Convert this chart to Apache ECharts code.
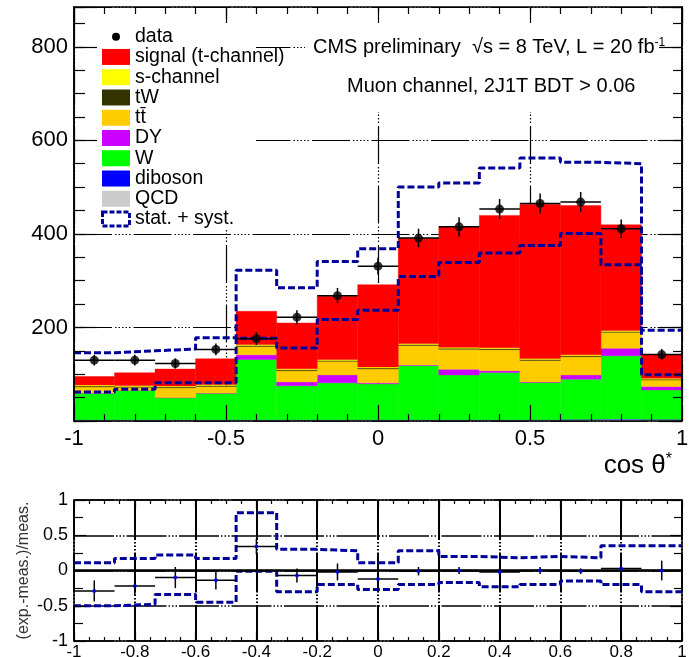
<!DOCTYPE html>
<html>
<head>
<meta charset="utf-8">
<script src="https://cdn.jsdelivr.net/npm/echarts/dist/echarts.min.js"></script>
<style>
  html, body { margin: 0; padding: 0; background: #fff; }
  #chart { width: 696px; height: 657px; }
</style>
</head>
<body>
<div id="chart"></div>
<script>
// bins in cos theta*
const binEdges = [-1, -0.8667, -0.7333, -0.6, -0.4667, -0.3333, -0.2, -0.0667, 0.0667, 0.2, 0.3333, 0.4667, 0.6, 0.7333, 0.8667, 1];
const binCenters = [-0.9333, -0.8, -0.6667, -0.5333, -0.4, -0.2667, -0.1333, 0, 0.1333, 0.2667, 0.4, 0.5333, 0.6667, 0.8, 0.9333];

// stacked MC, bottom to top
const qcd     = [2, 2, 2, 2, 2, 2, 2, 2, 2, 2, 2, 2, 3, 4, 3];
const diboson = [0.5, 0.5, 0.5, 0.5, 0.5, 0.5, 0.5, 0.5, 0.5, 0.5, 0.5, 0.5, 0.5, 0.5, 0.5];
const wjets   = [57, 63, 47, 57, 129, 73, 79, 77, 116, 96, 101, 80, 86, 135, 63];
const dy      = [0.5, 0.5, 0.5, 0.5, 10, 8, 17, 2, 1, 12, 4, 1, 9, 16, 7];
const ttbar   = [13, 6, 21, 14, 18, 24, 29, 30, 42, 43, 45, 46, 39, 34, 14];
const tw      = [2, 2, 2, 2, 2, 2, 2, 2, 2, 2, 2, 2, 2, 2, 2];
const schan   = [2, 2, 2, 2, 2, 2, 2, 2, 2, 2, 2, 2, 2, 2, 2];
const signal  = [18, 27, 36, 55, 71, 98, 135, 176, 225, 258, 283, 330, 319, 226, 50];

// data
const dataVals = [130, 130, 123, 153, 176, 222, 268, 331, 391, 415, 453, 465, 468, 411, 142];
const dataErr  = [11.5, 11.5, 11, 12.5, 13.5, 15, 16.5, 18, 20, 20.5, 21.5, 21.5, 21.5, 20, 12];

// stat + syst band
const bandUp   = [146, 150, 154, 178, 322, 285, 341, 368, 500, 509, 541, 562, 553, 550, 194];
const bandDown = [62, 68, 82, 82, 177, 156, 217, 237, 309, 339, 359, 375, 401, 334, 99];

// ratio panel
const ratioVals = [-0.29, -0.22, -0.1, -0.14, 0.34, -0.07, -0.02, -0.12, -0.01, 0, -0.02, 0, -0.01, 0.03, 0];
const ratioErr  = [0.15, 0.14, 0.15, 0.13, 0.11, 0.1, 0.12, 0.08, 0.06, 0.05, 0.05, 0.05, 0.04, 0.05, 0.14];
const ratioUp   = [0.11, 0.17, 0.22, 0.17, 0.82, 0.3, 0.28, 0.11, 0.28, 0.2, 0.18, 0.2, 0.18, 0.35, 0.35];
const ratioDown = [-0.5, -0.48, -0.34, -0.45, -0.01, -0.3, -0.2, -0.27, -0.2, -0.17, -0.23, -0.2, -0.15, -0.2, -0.3];

const mainYTicks = [200, 400, 600, 800];

const legendNames  = ['signal (t-channel)', 's-channel', 'tW', 'tt\u0304', 'DY', 'W', 'diboson', 'QCD'];
const legendColors = ['#ff0000', '#ffff00', '#333300', '#ffcc00', '#cc00ff', '#00ff00', '#0000ff', '#cccccc'];

const FONT = '"Liberation Sans", Arial, sans-serif';
const NAVY = '#000099';
const GRID_DASH = [38, 3, 1.5, 2, 1.5, 2, 1.5, 2, 1.5, 2, 1.5, 3];
const RATIO_DASH = [40, 2, 1.5, 2, 1.5, 2, 1.5, 2];

const chart = echarts.init(document.getElementById('chart'));

function histSeries(name, color, lo, hi) {
  return {
    type: 'custom',
    name: name,
    xAxisIndex: 0,
    yAxisIndex: 0,
    z: 2,
    data: lo.map((l, i) => [binEdges[i], binEdges[i + 1], l, hi[i]]),
    renderItem: function (params, api) {
      const p0 = api.coord([api.value(0), api.value(3)]);
      const p1 = api.coord([api.value(1), api.value(2)]);
      return {
        type: 'rect',
        shape: {x: p0[0], y: p0[1], width: p1[0] - p0[0], height: p1[1] - p0[1]},
        style: {fill: color, stroke: color, lineWidth: 0.4}
      };
    }
  };
}

function errorBars(xIdx, yIdx, vals, errs, color, width) {
  return {
    type: 'custom',
    xAxisIndex: xIdx,
    yAxisIndex: yIdx,
    z: 4,
    data: vals.map((v, i) => [binEdges[i], binEdges[i + 1], binCenters[i], v, errs[i]]),
    renderItem: function (params, api) {
      const y = api.value(3), e = api.value(4);
      const a = api.coord([api.value(0), y]);
      const b = api.coord([api.value(1), y]);
      const t = api.coord([api.value(2), y + e]);
      const d = api.coord([api.value(2), y - e]);
      return {
        type: 'group',
        children: [
          {type: 'line', shape: {x1: a[0], y1: a[1], x2: b[0], y2: b[1]}, style: {stroke: color, lineWidth: width}},
          {type: 'line', shape: {x1: t[0], y1: t[1], x2: d[0], y2: d[1]}, style: {stroke: color, lineWidth: width}}
        ]
      };
    }
  };
}

function stepLine(xIdx, yIdx, vals) {
  return {
    type: 'line',
    xAxisIndex: xIdx,
    yAxisIndex: yIdx,
    step: 'end',
    symbol: 'none',
    z: 3,
    data: binEdges.map((e, i) => [e, vals[Math.min(i, vals.length - 1)]]),
    lineStyle: {color: NAVY, width: 3, type: [7, 3]}
  };
}

// build the stack
const stack = [
  ['QCD', '#cccccc', qcd],
  ['diboson', '#0000ff', diboson],
  ['W', '#00ff00', wjets],
  ['DY', '#cc00ff', dy],
  ['tt', '#ffcc00', ttbar],
  ['tW', '#333300', tw],
  ['s-channel', '#ffff00', schan],
  ['signal (t-channel)', '#ff0000', signal]
];
const series = [];
let base = qcd.map(() => 0);
stack.forEach(s => {
  const lo = base.slice();
  base = base.map((b, i) => b + s[2][i]);
  series.push(histSeries(s[0], s[1], lo, base));
});

series.push(stepLine(0, 0, bandUp));
series.push(stepLine(0, 0, bandDown));
series.push(errorBars(0, 0, dataVals, dataErr, '#000', 1.5));
series.push({
  type: 'scatter',
  xAxisIndex: 0,
  yAxisIndex: 0,
  z: 5,
  symbol: 'circle',
  symbolSize: 9,
  itemStyle: {color: '#000'},
  data: binCenters.map((x, i) => [x, dataVals[i]])
});

// ratio panel
series.push(stepLine(3, 5, ratioUp));
series.push(stepLine(3, 5, ratioDown));
series.push(errorBars(3, 5, ratioVals, ratioErr, '#000', 1.5));
series.push({
  type: 'scatter',
  xAxisIndex: 3,
  yAxisIndex: 5,
  z: 5,
  symbol: 'circle',
  symbolSize: 4,
  itemStyle: {color: '#0000ff'},
  data: binCenters.map((x, i) => [x, ratioVals[i]]),
  markLine: {
    silent: true,
    symbol: 'none',
    label: {show: false},
    lineStyle: {color: '#000', width: 2.5, type: 'solid'},
    data: [{yAxis: 0}]
  }
});

const tickLine = {color: '#000', width: 1.2};
const noLine = {show: false};

function tickAxis(grid, pos, min, max, interval, len, extra) {
  return Object.assign({
    type: 'value', gridIndex: grid, position: pos, min: min, max: max, interval: interval, z: 6,
    axisLine: {show: true, onZero: false, lineStyle: {color: '#000', width: 1.5}},
    axisTick: {show: true, inside: true, length: len, lineStyle: tickLine},
    axisLabel: {show: false},
    splitLine: {show: false}
  }, extra || {});
}

function gridAxis(grid, pos, min, max, interval, width, dash) {
  return {
    type: 'value', gridIndex: grid, position: pos, min: min, max: max, interval: interval, z: 0,
    axisLine: noLine, axisTick: {show: false}, axisLabel: {show: false},
    splitLine: {show: true, lineStyle: {color: '#000', width: width, type: dash}}
  };
}

const option = {
  animation: false,
  backgroundColor: '#fff',
  grid: [
    {left: 74, top: 7, width: 608, height: 414, containLabel: false, outerBoundsMode: 'none'},
    {left: 74, top: 500, width: 608, height: 141, containLabel: false, outerBoundsMode: 'none'}
  ],
  xAxis: [
    tickAxis(0, 'bottom', -1, 1, 0.5, 16, {
      minorTick: {show: true, splitNumber: 5, length: 7, lineStyle: tickLine},
      axisLabel: {show: true, margin: 7, fontSize: 22, fontFamily: FONT, color: '#000', showMinLabel: true, showMaxLabel: true}
    }),
    tickAxis(0, 'top', -1, 1, 0.5, 16, {
      minorTick: {show: true, splitNumber: 5, length: 7, lineStyle: tickLine}
    }),
    gridAxis(0, 'bottom', -1, 1, 0.5, 1.2, GRID_DASH),
    tickAxis(1, 'bottom', -1, 1, 0.2, 8, {
      minorTick: {show: true, splitNumber: 4, length: 4, lineStyle: tickLine},
      axisLabel: {show: true, margin: 3, fontSize: 17, fontFamily: FONT, color: '#000', showMinLabel: true, showMaxLabel: true}
    }),
    tickAxis(1, 'top', -1, 1, 0.2, 8, {
      minorTick: {show: true, splitNumber: 4, length: 4, lineStyle: tickLine}
    }),
    gridAxis(1, 'bottom', -1, 1, 0.2, 2, RATIO_DASH)
  ],
  yAxis: [
    tickAxis(0, 'left', 0, 885, 200, 23, {
      axisLabel: {
        show: true, margin: 6, fontSize: 22, fontFamily: FONT, color: '#000',
        formatter: v => (mainYTicks.indexOf(v) >= 0 ? String(v) : '')
      }
    }),
    tickAxis(0, 'right', 0, 885, 200, 23),
    tickAxis(0, 'left', 0, 885, 50, 11),
    tickAxis(0, 'right', 0, 885, 50, 9),
    gridAxis(0, 'left', 0, 885, 200, 1.2, GRID_DASH),
    tickAxis(1, 'left', -1, 1, 0.5, 12, {
      minorTick: {show: true, splitNumber: 2, length: 9, lineStyle: tickLine},
      axisLabel: {show: true, margin: 6, fontSize: 18, fontFamily: FONT, color: '#000', showMinLabel: true, showMaxLabel: true},
      name: '(exp.-meas.)/meas.',
      nameLocation: 'middle',
      nameGap: 42,
      nameMoveOverlap: false,
      nameRotate: 90,
      nameTextStyle: {fontSize: 16, fontFamily: FONT, color: '#333'}
    }),
    tickAxis(1, 'right', -1, 1, 0.5, 12, {
      minorTick: {show: true, splitNumber: 2, length: 8, lineStyle: tickLine}
    }),
    gridAxis(1, 'left', -1, 1, 0.5, 1.6, RATIO_DASH)
  ],
  graphic: {
    elements: buildGraphics()
  },
  series: series
};

function buildGraphics() {
  const els = [];
  // white boxes that hide the grid behind legend and labels
  els.push({type: 'rect', z: 1, shape: {x: 96, y: 18, width: 160, height: 212}, style: {fill: '#fff'}});
  els.push({type: 'rect', z: 1, shape: {x: 305, y: 12, width: 376, height: 100}, style: {fill: '#fff'}});

  const rowY = k => 36.7 + k * 20.26;
  const txt = (s, y) => ({
    type: 'text', z: 10, x: 135, y: y,
    style: {text: s, font: '19.5px ' + FONT, fill: '#000', align: 'left', verticalAlign: 'middle'}
  });

  els.push({type: 'circle', z: 10, shape: {cx: 116, cy: rowY(0), r: 4}, style: {fill: '#000'}});
  els.push(txt('data', rowY(0)));
  legendNames.forEach((n, i) => {
    const y = rowY(i + 1);
    els.push({type: 'rect', z: 10, shape: {x: 102, y: y - 8, width: 28, height: 16}, style: {fill: legendColors[i]}});
    els.push(txt(n, y));
  });
  const ys = rowY(9);
  els.push({type: 'rect', z: 10, shape: {x: 102.5, y: ys - 7, width: 27, height: 14},
    style: {fill: '#fff', stroke: NAVY, lineWidth: 3, lineDash: [5, 2]}});
  els.push(txt('stat. + syst.', ys));

  els.push({
    type: 'text', z: 10, x: 313, y: 47,
    style: {
      text: 'CMS preliminary  \u221As = 8 TeV, L = 20 fb{sup|-1}',
      font: '20px ' + FONT, fill: '#000', align: 'left', verticalAlign: 'middle',
      rich: {sup: {fontSize: 12, fontFamily: FONT, verticalAlign: 'top', padding: [0, 0, 9, 0]}}
    }
  });
  els.push({
    type: 'text', z: 10, x: 347, y: 86,
    style: {text: 'Muon channel, 2J1T BDT > 0.06', font: '20px ' + FONT, fill: '#000', align: 'left', verticalAlign: 'middle'}
  });
  els.push({
    type: 'text', z: 10, x: 672, y: 466,
    style: {
      text: 'cos \u03B8{sup|*}',
      font: '26px ' + FONT, fill: '#000', align: 'right', verticalAlign: 'middle',
      rich: {sup: {fontSize: 16, fontFamily: FONT, padding: [0, 0, 12, 0]}}
    }
  });
  return els;
}

chart.setOption(option);
</script>
</body>
</html>
